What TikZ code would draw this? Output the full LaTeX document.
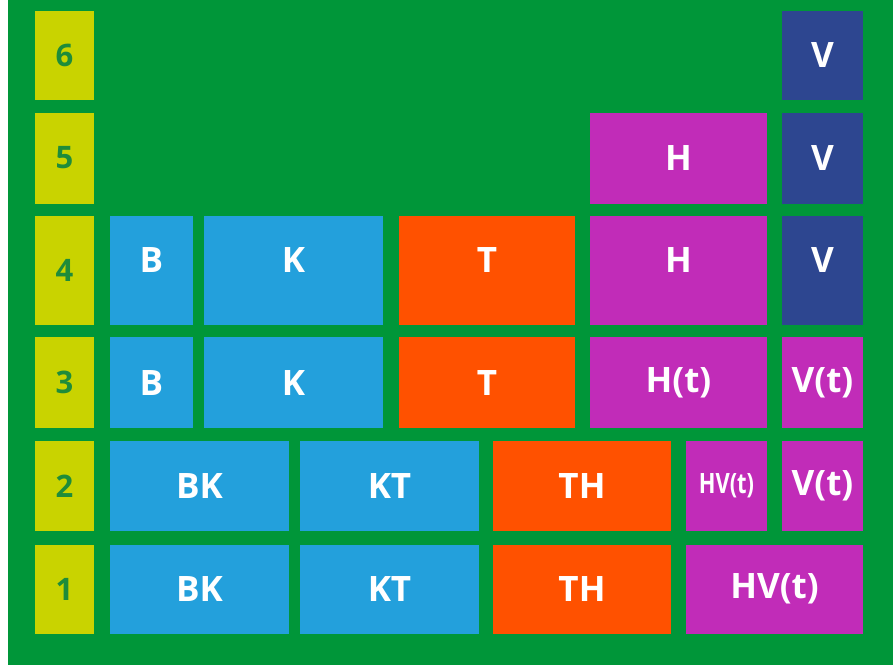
\documentclass[tikz,border=0pt]{standalone}
\usepackage{fontspec}
\setmainfont{Open Sans}
\definecolor{bggreen}{RGB}{0,150,57}
\definecolor{numyellow}{RGB}{201,211,0}
\definecolor{numgreen}{RGB}{30,140,58}
\definecolor{cellblue}{RGB}{35,160,220}
\definecolor{cellorange}{RGB}{255,81,0}
\definecolor{cellmagenta}{RGB}{193,44,184}
\definecolor{cellnavy}{RGB}{45,70,144}
\begin{document}
\begin{tikzpicture}[x=1pt,y=-1pt,
  num/.style={fill=numyellow, text=numgreen, inner sep=0pt, minimum width=59pt,
    font=\fontsize{31}{31}\selectfont\bfseries},
  cell/.style={fill=#1, text=white, inner sep=0pt,
    font=\fontsize{35}{35}\selectfont\bfseries},
  raised/.style={text depth=20pt}]
\useasboundingbox (0,0) rectangle (893,665);
\fill[white] (0,0) rectangle (893,665);
\fill[bggreen] (8,0) rectangle (893,665);
% row numbers
\node[num, minimum height=89pt] (n6) at (64.5,55) {6};
\node[num, minimum height=91pt] (n5) at (64.5,158) {5};
\node[num, minimum height=109pt] (n4) at (64.5,270) {4};
\node[num, minimum height=91pt] (n3) at (64.5,382.5) {3};
\node[num, minimum height=90pt] (n2) at (64.5,486) {2};
\node[num, minimum height=89pt] (n1) at (64.5,589) {1};
% row 6
\node[cell=cellnavy, minimum width=81pt, minimum height=89pt] (v6) at (822.5,55) {V};
% row 5
\node[cell=cellmagenta, minimum width=177pt, minimum height=91pt] (h5) at (678.5,158) {H};
\node[cell=cellnavy, minimum width=81pt, minimum height=91pt] (v5) at (822.5,158) {V};
% row 4
\node[cell=cellblue, raised, minimum width=83pt, minimum height=109pt] (b4) at (151.5,270) {B};
\node[cell=cellblue, raised, minimum width=179pt, minimum height=109pt] (k4) at (293.5,270) {K};
\node[cell=cellorange, raised, minimum width=176pt, minimum height=109pt] (t4) at (487,270) {T};
\node[cell=cellmagenta, raised, minimum width=177pt, minimum height=109pt] (h4) at (678.5,270) {H};
\node[cell=cellnavy, raised, minimum width=81pt, minimum height=109pt] (v4) at (822.5,270) {V};
% row 3
\node[cell=cellblue, minimum width=83pt, minimum height=91pt] (b3) at (151.5,382.5) {B};
\node[cell=cellblue, minimum width=179pt, minimum height=91pt] (k3) at (293.5,382.5) {K};
\node[cell=cellorange, minimum width=176pt, minimum height=91pt] (t3) at (487,382.5) {T};
\node[cell=cellmagenta, minimum width=177pt, minimum height=91pt] (h3) at (678.5,382.5) {H(t)};
\node[cell=cellmagenta, minimum width=81pt, minimum height=91pt] (v3) at (822.5,382.5) {V(t)};
% row 2
\node[cell=cellblue, minimum width=179pt, minimum height=90pt] (bk2) at (199.5,486) {BK};
\node[cell=cellblue, minimum width=179pt, minimum height=90pt] (kt2) at (389.5,486) {KT};
\node[cell=cellorange, minimum width=178pt, minimum height=90pt] (th2) at (582,486) {TH};
\node[cell=cellmagenta, minimum width=81pt, minimum height=90pt,
  font=\fontsize{28}{28}\selectfont\bfseries] (hv2) at (726.5,486) {\scalebox{0.78}[1]{HV(t)}};
\node[cell=cellmagenta, minimum width=81pt, minimum height=90pt] (v2) at (822.5,486) {V(t)};
% row 1
\node[cell=cellblue, minimum width=179pt, minimum height=89pt] (bk1) at (199.5,589) {BK};
\node[cell=cellblue, minimum width=179pt, minimum height=89pt] (kt1) at (389.5,589) {KT};
\node[cell=cellorange, minimum width=178pt, minimum height=89pt] (th1) at (582,589) {TH};
\node[cell=cellmagenta, minimum width=177pt, minimum height=89pt] (hv1) at (774.5,589) {HV(t)};
\end{tikzpicture}
\end{document}
